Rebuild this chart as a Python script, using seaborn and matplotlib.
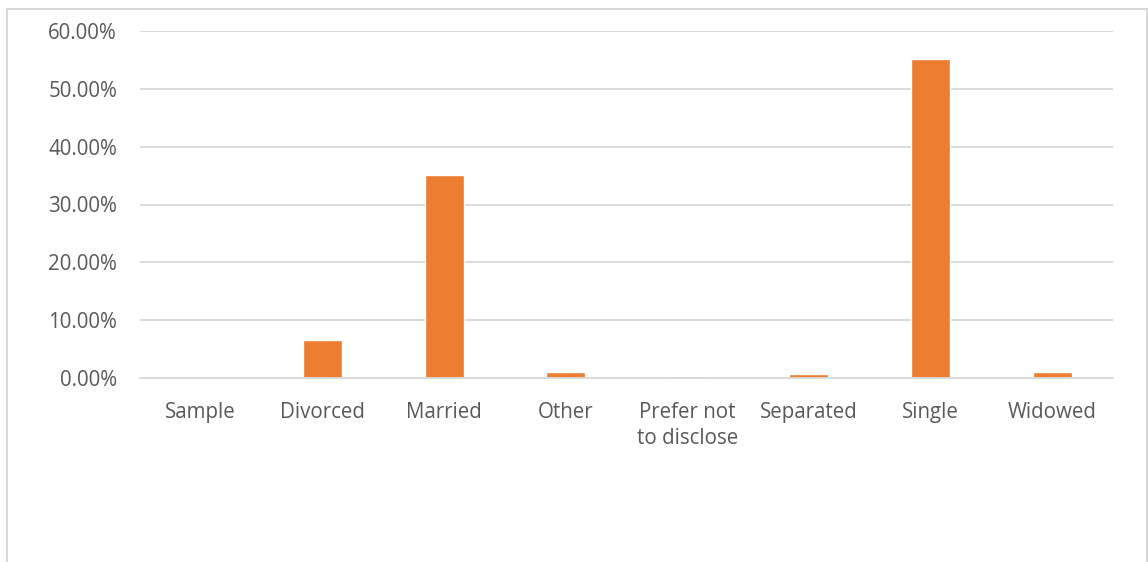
import matplotlib
matplotlib.use("Agg")
import matplotlib.pyplot as plt
import seaborn as sns
import pandas as pd
from matplotlib.patches import Rectangle
from matplotlib.ticker import FuncFormatter

categories = ["Sample", "Divorced", "Married", "Other", "Prefer not\nto disclose",
              "Separated", "Single", "Widowed"]
values = [0.0, 6.55, 35.1, 1.0, 0.4, 0.7, 55.1, 1.0]
yticks = [0, 10, 20, 30, 40, 50, 60]

sns.set_theme(style="white")
plt.rcParams['font.family'] = ['Open Sans', 'DejaVu Sans']

df = pd.DataFrame({"cat": categories, "val": values})

fig = plt.figure(figsize=(11.48, 5.62), dpi=100)
W, H = 1148, 562
ax = fig.add_axes([140 / W, 1 - 378 / H, (1113 - 140) / W, (378 - 31) / H])

sns.barplot(data=df, x="cat", y="val", color="#ED7D31", width=0.32,
            saturation=1, ax=ax, order=categories)

ax.set_ylim(0, 60)
ax.set_yticks(yticks)
ax.yaxis.set_major_formatter(FuncFormatter(lambda v, p: f"{v:.2f}%"))
ax.set_xlim(-0.5, len(categories) - 0.5)
ax.grid(axis="y", color="#D9D9D9", linewidth=1.3)
ax.set_axisbelow(True)
for s in ["top", "right", "left"]:
    ax.spines[s].set_visible(False)
ax.spines["bottom"].set_color("#D9D9D9")
ax.spines["bottom"].set_linewidth(1.3)
ax.set_xlabel("")
ax.set_ylabel("")
ax.tick_params(axis="both", length=0, labelsize=14.8, labelcolor="#595959")
ax.tick_params(axis="y", pad=16.5)
ax.tick_params(axis="x", pad=17)
for lab in ax.get_xticklabels():
    lab.set_verticalalignment("top")
    lab.set_linespacing(1.35)

fig.patches.append(Rectangle((6.5 / W, -0.1), (1147 - 6.5) / W, 1.1 - 8.5 / H,
                             transform=fig.transFigure, fill=False,
                             edgecolor="#D9D9D9", linewidth=1.5))

fig.savefig("out.png", dpi=100, facecolor="white")
